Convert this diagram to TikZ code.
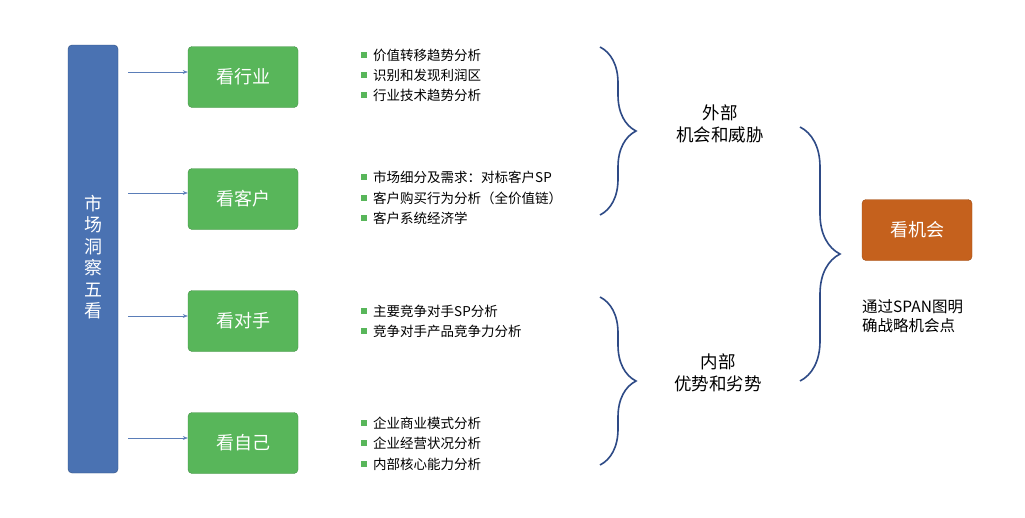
\documentclass[tikz,border=0pt]{standalone}
\usepackage{fontspec}
\setmainfont{Noto Sans CJK SC}
\usetikzlibrary{decorations.pathreplacing,arrows.meta}
\definecolor{lblue}{HTML}{4A72B2}
\definecolor{lbord}{HTML}{2F4F80}
\definecolor{gbox}{HTML}{58B65A}
\definecolor{obox}{HTML}{C5611D}
\definecolor{brc}{HTML}{2E4A86}
\definecolor{arr}{HTML}{5A7DB8}
\begin{document}
\begin{tikzpicture}[x=1pt,y=1pt,
  gnode/.style={draw=gbox!80!black,fill=gbox,rounded corners=4pt,minimum width=110pt,minimum height=61pt,text=white,font=\fontsize{18}{21}\selectfont,inner sep=0},
  bul/.style={anchor=west,font=\fontsize{13.5}{15}\selectfont,inner sep=0},
  bsq/.style={fill=gbox,minimum size=6pt,inner sep=0},
  larr/.style={-{Stealth[length=5pt]},draw=arr,thin},
  brcs/.style={draw=brc,line width=1.6pt,decorate},
  lab/.style={align=center,font=\fontsize{17.5}{22}\selectfont}]
\path[use as bounding box,fill=white] (0,0) rectangle (1025,-517);
\node[draw=lbord,fill=lblue,rounded corners=4pt,minimum width=50pt,minimum height=428pt,inner sep=0] (L) at (93,-259) {};
\node[text=white,align=center,font=\fontsize{18}{21.5}\selectfont] (Lt) at (93,-257) {市\\场\\洞\\察\\五\\看};
\node[gnode] (g1) at (243,-77) {看行业};
\node[gnode] (g2) at (243,-199) {看客户};
\node[gnode] (g3) at (243,-321) {看对手};
\node[gnode] (g4) at (243,-443) {看自己};
\coordinate (a1) at (128,-72); \coordinate (a2) at (128,-193);
\coordinate (a3) at (128,-316); \coordinate (a4) at (128,-438);
\draw[larr] (a1) -- (g1.west|-a1);
\draw[larr] (a2) -- (g2.west|-a2);
\draw[larr] (a3) -- (g3.west|-a3);
\draw[larr] (a4) -- (g4.west|-a4);
\foreach \y/\t/\n in {55/价值转移趋势分析/b1,75/识别和发现利润区/b2,95/行业技术趋势分析/b3,
  177/市场细分及需求：对标客户SP/b4,198/客户购买行为分析（全价值链）/b5,218/客户系统经济学/b6,
  311/主要竞争对手SP分析/b7,331/竞争对手产品竞争力分析/b8,
  423/企业商业模式分析/b9,443/企业经营状况分析/b10,464/内部核心能力分析/b11}{
  \node[bsq] (s\n) at (364,-\y) {};
  \node[bul] (\n) at (373,-\y) {\t};
}
\draw[brcs,decoration={brace,amplitude=36pt}] (600,-47) -- (600,-215);
\draw[brcs,decoration={brace,amplitude=36pt}] (600,-297) -- (600,-465);
\draw[brcs,decoration={brace,amplitude=40pt}] (800,-127) -- (800,-381);
\node[lab] (ext) at (720,-124) {外部\\机会和威胁};
\node[lab] (int) at (718,-373) {内部\\优势和劣势};
\node[draw=obox!80!black,fill=obox,rounded corners=4pt,minimum width=110pt,minimum height=61pt,text=white,font=\fontsize{18}{21}\selectfont,inner sep=0] (opp) at (917,-230) {看机会};
\node[align=left,anchor=north west,font=\fontsize{15.5}{19}\selectfont,inner sep=0] (cap) at (862,-299) {通过SPAN图明\\确战略机会点};
\end{tikzpicture}
\end{document}
